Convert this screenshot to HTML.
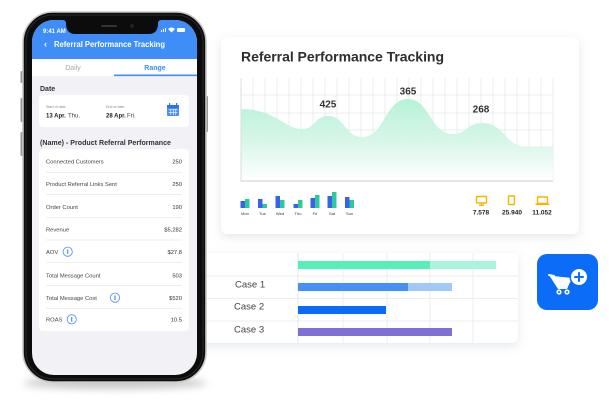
<!DOCTYPE html>
<html><head><meta charset="utf-8"><style>
html,body{margin:0;padding:0;background:#fff;}
svg{display:block;}
text{font-family:"Liberation Sans",sans-serif;}
</style></head><body>
<svg width="609" height="400" viewBox="0 0 609 400" xmlns="http://www.w3.org/2000/svg">
<defs>
  <filter id="sh" x="-20%" y="-20%" width="140%" height="150%">
    <feDropShadow dx="0" dy="3" stdDeviation="5" flood-color="#8090a8" flood-opacity="0.22"/>
  </filter>
  <filter id="blur" x="-20%" y="-50%" width="140%" height="200%"><feGaussianBlur stdDeviation="4"/></filter>
  <linearGradient id="area" x1="0" y1="99" x2="0" y2="181" gradientUnits="userSpaceOnUse">
    <stop offset="0" stop-color="#aef0d4"/>
    <stop offset="0.5" stop-color="#d2f6e6"/>
    <stop offset="1" stop-color="#ffffff"/>
  </linearGradient>
  <clipPath id="scr"><rect x="32" y="20" width="165" height="355" rx="22"/></clipPath>
</defs>

<!-- lower card -->
<rect x="150" y="253" width="368" height="90" rx="6" fill="#fff" filter="url(#sh)"/>
<g stroke="#eeeeee" stroke-width="1">
  <line x1="150" y1="276" x2="518" y2="276"/>
  <line x1="150" y1="298.5" x2="518" y2="298.5"/>
  <line x1="150" y1="321" x2="518" y2="321"/>
  <line x1="298" y1="253" x2="298" y2="343" stroke="#e4e4e4"/>
  <line x1="343" y1="253" x2="343" y2="343"/>
  <line x1="387" y1="253" x2="387" y2="343"/>
  <line x1="430" y1="253" x2="430" y2="343"/>
  <line x1="473" y1="253" x2="473" y2="343"/>
</g>
<rect x="298" y="261" width="132" height="8" fill="#55efb8"/>
<rect x="430" y="261" width="66" height="8" fill="#a8f5da"/>
<rect x="298" y="283" width="110" height="8" fill="#4490f5"/>
<rect x="408" y="283" width="44" height="8" fill="#a2c8fa"/>
<rect x="298" y="306" width="88" height="8" fill="#0a6cf5"/>
<rect x="298" y="328" width="154" height="8" fill="#8070d6"/>
<text x="235" y="287.5" font-size="9.5" fill="#444">Case 1</text>
<text x="234" y="309.5" font-size="9.5" fill="#444">Case 2</text>
<text x="234" y="332.5" font-size="9.5" fill="#444">Case 3</text>

<!-- cart button -->
<rect x="537" y="254" width="61" height="56" rx="10" fill="#0a6cf7"/>
<path d="M549,275 L553,276 L572,278 L567,289 L558,289 Z" fill="#fff"/>
<line x1="549" y1="275" x2="554" y2="276" stroke="#fff" stroke-width="2" stroke-linecap="round"/>
<circle cx="559" cy="292" r="2.6" fill="#fff"/><circle cx="559" cy="292" r="1" fill="#0a6cf7"/>
<circle cx="567" cy="292" r="2.6" fill="#fff"/><circle cx="567" cy="292" r="1" fill="#0a6cf7"/>
<circle cx="579" cy="277" r="9.5" fill="#0a6cf7"/>
<circle cx="579" cy="277" r="8" fill="#fff"/>
<path d="M579,273 V281 M575,277 H583" stroke="#0a6cf7" stroke-width="2" stroke-linecap="round"/>

<!-- chart card -->
<rect x="221" y="37" width="358" height="197" rx="6" fill="#fff" filter="url(#sh)"/>
<text x="241" y="61.5" font-size="14" font-weight="bold" fill="#2e2e2e" textLength="203" lengthAdjust="spacing">Referral Performance Tracking</text>
<g stroke="#e8e8e8" stroke-width="0.8">
  <line x1="253" y1="78" x2="253" y2="181"/><line x1="265" y1="78" x2="265" y2="181"/>
  <line x1="277" y1="78" x2="277" y2="181"/><line x1="289" y1="78" x2="289" y2="181"/>
  <line x1="301" y1="78" x2="301" y2="181"/><line x1="313" y1="78" x2="313" y2="181"/>
  <line x1="325" y1="78" x2="325" y2="181"/><line x1="337" y1="78" x2="337" y2="181"/>
  <line x1="349" y1="78" x2="349" y2="181"/><line x1="361" y1="78" x2="361" y2="181"/>
  <line x1="373" y1="78" x2="373" y2="181"/><line x1="385" y1="78" x2="385" y2="181"/>
  <line x1="397" y1="78" x2="397" y2="181"/><line x1="409" y1="78" x2="409" y2="181"/>
  <line x1="421" y1="78" x2="421" y2="181"/><line x1="433" y1="78" x2="433" y2="181"/>
  <line x1="445" y1="78" x2="445" y2="181"/><line x1="457" y1="78" x2="457" y2="181"/>
  <line x1="469" y1="78" x2="469" y2="181"/><line x1="481" y1="78" x2="481" y2="181"/>
  <line x1="493" y1="78" x2="493" y2="181"/><line x1="505" y1="78" x2="505" y2="181"/>
  <line x1="517" y1="78" x2="517" y2="181"/><line x1="529" y1="78" x2="529" y2="181"/>
  <line x1="541" y1="78" x2="541" y2="181"/><line x1="553" y1="78" x2="553" y2="181"/>
  <line x1="241" y1="95" x2="553" y2="95"/><line x1="241" y1="113" x2="553" y2="113"/>
  <line x1="241" y1="130" x2="553" y2="130"/><line x1="241" y1="147" x2="553" y2="147"/>
  <line x1="241" y1="164" x2="553" y2="164"/>
</g>
<path d="M241,109 C275,109 285,129 302,129 C315,129 315,116 328,116 C345,116 345,137 362,137 C385,137 385,99 408,99 C430,99 430,134 453,134 C467,134 467,123 482,123 C505,123 505,147 528,147 L553,147 L553,181 L241,181 Z" fill="url(#area)" opacity="0.9"/>
<line x1="241" y1="78" x2="241" y2="181" stroke="#dcdcdc" stroke-width="1"/>
<line x1="241" y1="181" x2="553" y2="181" stroke="#cfcfcf" stroke-width="1"/>
<text x="328" y="107.5" font-size="10" font-weight="bold" fill="#333" text-anchor="middle">425</text>
<text x="408" y="94.5" font-size="10" font-weight="bold" fill="#333" text-anchor="middle">365</text>
<text x="481" y="112.5" font-size="10" font-weight="bold" fill="#333" text-anchor="middle">268</text>

<!-- mini bars -->
<g fill="#3563ea">
  <rect x="240.5" y="201" width="4.5" height="7"/>
  <rect x="258" y="199" width="4.5" height="9"/>
  <rect x="275.5" y="196" width="4.5" height="12"/>
  <rect x="293.5" y="204" width="4.5" height="4"/>
  <rect x="310.5" y="198" width="4.5" height="10"/>
  <rect x="327.5" y="196" width="4.5" height="12"/>
  <rect x="345" y="197" width="4.5" height="11"/>
</g>
<g fill="#2cc9a0">
  <rect x="245" y="199" width="4.5" height="9"/>
  <rect x="262.5" y="204" width="4.5" height="4"/>
  <rect x="280" y="200" width="4.5" height="8"/>
  <rect x="298" y="200" width="4.5" height="8"/>
  <rect x="315" y="195" width="4.5" height="13"/>
  <rect x="332" y="192" width="4.5" height="16"/>
  <rect x="349.5" y="200" width="4.5" height="8"/>
</g>
<g font-size="4" fill="#333" text-anchor="middle">
  <text x="245" y="215">Mon</text><text x="262.5" y="215">Tue</text><text x="280" y="215">Wed</text>
  <text x="298" y="215">Thu</text><text x="315" y="215">Fri</text><text x="332" y="215">Sat</text><text x="349.5" y="215">Sun</text>
</g>

<!-- device icons -->
<g stroke="#f5b400" stroke-width="1.4" fill="none">
  <rect x="476.5" y="196.5" width="10" height="6.5" rx="0.5"/>
  <line x1="481.5" y1="203" x2="481.5" y2="205"/><line x1="479" y1="205.3" x2="484" y2="205.3"/>
  <rect x="508.5" y="196" width="6" height="8.5" rx="0.5"/>
  <rect x="537.5" y="197" width="10" height="6.5" rx="0.5"/>
  <line x1="535.5" y1="204.3" x2="549.5" y2="204.3"/>
</g>
<g font-size="6.5" font-weight="bold" fill="#222" text-anchor="middle">
  <text x="481" y="214.5">7.578</text><text x="512" y="214.5">25.940</text><text x="542" y="214.5">11.052</text>
</g>

<!-- phone shadow -->
<ellipse cx="115" cy="383" rx="92" ry="6" fill="#9a9a9a" opacity="0.55" filter="url(#blur)"/>
<!-- side buttons -->
<rect x="20.5" y="71" width="3" height="12" rx="1" fill="#9a9a9a"/>
<rect x="20.5" y="98" width="3" height="24" rx="1" fill="#9a9a9a"/>
<rect x="20.5" y="132" width="3" height="24" rx="1" fill="#9a9a9a"/>
<rect x="205" y="96" width="3" height="36" rx="1" fill="#9a9a9a"/>
<!-- phone frame -->
<rect x="23" y="12" width="183" height="370" rx="30" fill="#0c0c0c" stroke="#c8c8c8" stroke-width="1.6"/>
<rect x="26" y="15" width="177" height="364" rx="27" fill="none" stroke="#2a2a2a" stroke-width="1"/>

<g clip-path="url(#scr)">
  <rect x="32" y="20" width="165" height="355" fill="#f1f1f6"/>
  <rect x="32" y="20" width="165" height="39" fill="#3f8ef7"/>
  <rect x="32" y="59" width="165" height="17" fill="#fff"/>
  <rect x="114" y="74.5" width="83" height="1.6" fill="#3f8ef7"/>
</g>
<!-- notch -->
<path d="M62,20 C65,20 66,21 66,24 C66,30 69,34 75,34 L149,34 C155,34 158,30 158,24 C158,21 159,20 162,20 Z" fill="#0c0c0c"/>
<rect x="101" y="25" width="16" height="2" rx="1" fill="#333"/>
<circle cx="132" cy="26" r="2" fill="#222"/>
<!-- status -->
<text x="43" y="33" font-size="6" font-weight="bold" fill="#fff">9:41 AM</text>
<g fill="#fff">
  <rect x="161" y="30" width="1" height="2"/><rect x="163" y="29" width="1" height="3"/><rect x="165" y="28" width="1" height="4"/>
  <path d="M168,29 Q171.5,26 175,29 L171.5,32.5 Z"/>
  <rect x="177" y="28" width="8" height="4" rx="1"/>
</g>
<text x="44" y="47" font-size="9" font-weight="bold" fill="#fff">‹</text>
<text x="54" y="47" font-size="8" font-weight="bold" fill="#fff" textLength="111" lengthAdjust="spacingAndGlyphs">Referral Performance Tracking</text>
<text x="73" y="70" font-size="7" fill="#a8a8a8" text-anchor="middle">Daily</text>
<text x="155" y="70" font-size="7" font-weight="bold" fill="#3f8ef7" text-anchor="middle">Range</text>

<text x="40" y="91" font-size="7" font-weight="bold" fill="#333">Date</text>
<rect x="39" y="95" width="150" height="32" rx="4" fill="#fff"/>
<text x="46" y="108" font-size="3.6" fill="#888">Start of date</text>
<text x="46" y="117.5" font-size="6" font-weight="bold" fill="#222">13 Apr.</text>
<text x="68" y="117.5" font-size="6" fill="#444">Thu.</text>
<text x="106" y="108" font-size="3.6" fill="#888">End of date</text>
<text x="106" y="117.5" font-size="6" font-weight="bold" fill="#222">28 Apr.</text>
<text x="127" y="117.5" font-size="6" fill="#444">Fri.</text>
<!-- calendar -->
<rect x="167" y="105" width="12" height="11" rx="1" fill="#4a8ff0"/>
<rect x="167" y="105" width="12" height="3" fill="#2f74e0"/>
<rect x="169" y="103" width="1.2" height="3" fill="#2f74e0"/><rect x="176" y="103" width="1.2" height="3" fill="#2f74e0"/>
<g fill="#fff"><rect x="168.5" y="109.5" width="9" height="0.6"/><rect x="168.5" y="112" width="9" height="0.6"/><rect x="170.5" y="109" width="0.6" height="6"/><rect x="173" y="109" width="0.6" height="6"/><rect x="175.5" y="109" width="0.6" height="6"/></g>

<text x="40" y="145" font-size="7.3" font-weight="bold" fill="#333" textLength="131" lengthAdjust="spacingAndGlyphs">(Name) - Product Referral Performance</text>
<rect x="39" y="149" width="150" height="182" rx="4" fill="#fff"/>
<g stroke="#e8e8e8" stroke-width="0.8">
  <line x1="46" y1="172.5" x2="182" y2="172.5"/><line x1="46" y1="194.5" x2="182" y2="194.5"/>
  <line x1="46" y1="217.5" x2="182" y2="217.5"/><line x1="46" y1="240" x2="182" y2="240"/>
  <line x1="46" y1="262.5" x2="182" y2="262.5"/><line x1="46" y1="285.5" x2="182" y2="285.5"/>
  <line x1="46" y1="308.5" x2="182" y2="308.5"/>
</g>
<g font-size="5.8" fill="#444">
  <text x="46" y="163.5">Connected Customers</text>
  <text x="46" y="186">Product Referral Links Sent</text>
  <text x="46" y="209">Order Count</text>
  <text x="46" y="231.5">Revenue</text>
  <text x="46" y="254">AOV</text>
  <text x="46" y="277.3">Total Message Count</text>
  <text x="46" y="300">Total Message Cost</text>
  <text x="46" y="321.6">ROAS</text>
</g>
<g font-size="5.8" fill="#333" text-anchor="end">
  <text x="182" y="163.5">250</text>
  <text x="182" y="186">250</text>
  <text x="182" y="209">190</text>
  <text x="182" y="231.5">$5,282</text>
  <text x="182" y="254">$27.8</text>
  <text x="182" y="277.3">503</text>
  <text x="182" y="300">$520</text>
  <text x="182" y="321.6">10.5</text>
</g>
<g fill="none" stroke="#4a8ff0" stroke-width="0.8">
  <circle cx="67.7" cy="251.7" r="4.6"/><circle cx="115" cy="297.7" r="4.6"/><circle cx="71.7" cy="319.3" r="4.6"/>
</g>
<g fill="#4a8ff0">
  <rect x="67.1" y="249.5" width="1.2" height="4.5"/>
  <rect x="114.4" y="295.5" width="1.2" height="4.5"/>
  <rect x="71.1" y="317.1" width="1.2" height="4.5"/>
</g>
</svg>
</body></html>
